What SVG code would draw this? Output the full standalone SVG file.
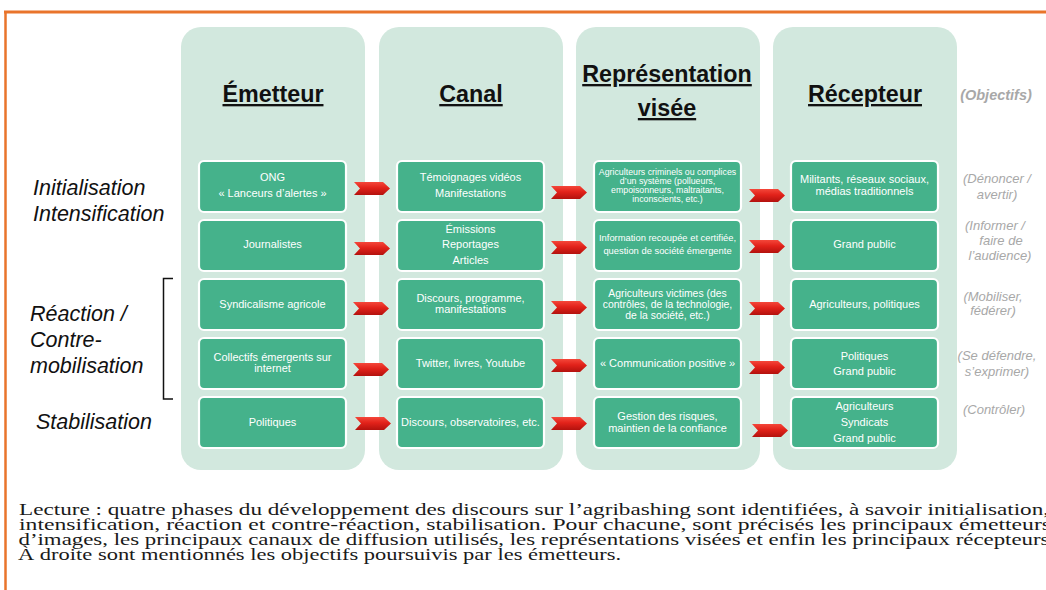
<svg xmlns="http://www.w3.org/2000/svg" width="1046" height="590" viewBox="0 0 1046 590">
  <defs>
    <linearGradient id="redGrad" x1="0" y1="0" x2="0" y2="1">
      <stop offset="0" stop-color="#F4473A"/>
      <stop offset="0.45" stop-color="#E2221A"/>
      <stop offset="1" stop-color="#B3120E"/>
    </linearGradient>
    <!-- chevron connector: notched tail, pointed head -->
    <path id="chev" d="M0,0 L29,0 L36,6.5 L29,13 L0,13 L6,6.5 Z"/>
  </defs>
  <style>
    .col { fill: #D2E8DE; }
    .box { fill: #45B28B; stroke: #FFFFFF; stroke-width: 2.2; }
    .bt { font-family: "Liberation Sans", Arial, sans-serif; fill: #FFFFFF; text-anchor: middle; font-size: 11px; }
    .bt.s9 { font-size: 8.8px; }
    .bt.s94 { font-size: 9.4px; }
    .bt.s10 { font-size: 10.4px; }
    .hd { font-family: "Liberation Sans", Arial, sans-serif; font-weight: bold; font-size: 23.3px; fill: #111111; text-anchor: middle; text-decoration: underline; }
    .phase { font-family: "Liberation Sans", Arial, sans-serif; font-style: italic; font-size: 21.5px; fill: #111111; }
    .obj { font-family: "Liberation Sans", Arial, sans-serif; font-style: italic; font-size: 13px; fill: #A8A8A8; text-anchor: middle; }
    .cap { font-family: "Liberation Serif", "Times New Roman", serif; font-size: 16px; fill: #1A1A1A; }
    .arr { fill: url(#redGrad); }
  </style>

  <rect width="1046" height="590" fill="#FFFFFF"/>

  <!-- orange frame -->
  <g id="frame">
    <line x1="4" y1="12" x2="1046" y2="12" stroke="#E9742B" stroke-width="3"/>
    <line x1="5.5" y1="11" x2="5.5" y2="590" stroke="#E9742B" stroke-width="2.5"/>
  </g>

  <!-- column backgrounds -->
  <g id="columns">
    <rect class="col" x="181" y="27" width="184" height="443" rx="20"/>
    <rect class="col" x="379" y="27" width="184" height="443" rx="20"/>
    <rect class="col" x="576" y="27" width="184" height="443" rx="20"/>
    <rect class="col" x="773" y="27" width="184" height="443" rx="20"/>
  </g>

  <!-- column headers -->
  <g id="headers">
    <text class="hd" x="273" y="102">Émetteur</text>
    <text class="hd" x="471" y="102">Canal</text>
    <text class="hd" x="667" y="82">Représentation</text>
    <text class="hd" x="667" y="116">visée</text>
    <text class="hd" x="865" y="102">Récepteur</text>
    <text x="996" y="100" font-family="Liberation Sans, Arial, sans-serif" font-style="italic" font-weight="bold" font-size="14.5" fill="#A8A8A8" text-anchor="middle">(Objectifs)</text>
  </g>

  <!-- phase labels -->
  <g id="phases">
    <text class="phase" x="33" y="195">Initialisation</text>
    <text class="phase" x="33" y="221">Intensification</text>
    <text class="phase" x="30" y="321">Réaction /</text>
    <text class="phase" x="30" y="347">Contre-</text>
    <text class="phase" x="30" y="373">mobilisation</text>
    <text class="phase" x="36" y="429">Stabilisation</text>
    <path d="M173,278.5 H163.5 V399 H173" fill="none" stroke="#111111" stroke-width="1.5"/>
  </g>

  <!-- row 1 -->
  <g id="n-ong">
    <rect class="box" x="199" y="161" width="147" height="51" rx="5"/>
    <text class="bt" x="272.5" y="181">ONG</text>
    <text class="bt" x="272.5" y="197">« Lanceurs d’alertes »</text>
  </g>
  <g id="n-temoignages">
    <rect class="box" x="397" y="161" width="147" height="51" rx="5"/>
    <text class="bt" x="470.5" y="181">Témoignages vidéos</text>
    <text class="bt" x="470.5" y="197">Manifestations</text>
  </g>
  <g id="n-criminels">
    <rect class="box" x="594" y="161" width="147" height="51" rx="5"/>
    <text class="bt s9" x="667.5" y="175">Agriculteurs criminels ou complices</text>
    <text class="bt s9" x="667.5" y="184">d’un système (pollueurs,</text>
    <text class="bt s9" x="667.5" y="193">empoisonneurs, maltraitants,</text>
    <text class="bt s9" x="667.5" y="202">inconscients, etc.)</text>
  </g>
  <g id="n-militants">
    <rect class="box" x="791" y="161" width="147" height="51" rx="5"/>
    <text class="bt" x="864.5" y="183">Militants, réseaux sociaux,</text>
    <text class="bt" x="864.5" y="195">médias traditionnels</text>
  </g>

  <!-- row 2 -->
  <g id="n-journalistes">
    <rect class="box" x="199" y="220" width="147" height="51" rx="5"/>
    <text class="bt" x="272.5" y="248">Journalistes</text>
  </g>
  <g id="n-emissions">
    <rect class="box" x="397" y="220" width="147" height="51" rx="5"/>
    <text class="bt" x="470.5" y="233">Émissions</text>
    <text class="bt" x="470.5" y="248">Reportages</text>
    <text class="bt" x="470.5" y="263.5">Articles</text>
  </g>
  <g id="n-information">
    <rect class="box" x="594" y="220" width="147" height="51" rx="5"/>
    <text class="bt s94" x="667.5" y="241">Information recoupée et certifiée,</text>
    <text class="bt s94" x="667.5" y="254">question de société émergente</text>
  </g>
  <g id="n-grandpublic">
    <rect class="box" x="791" y="220" width="147" height="51" rx="5"/>
    <text class="bt" x="864.5" y="248">Grand public</text>
  </g>

  <!-- row 3 -->
  <g id="n-syndicalisme">
    <rect class="box" x="199" y="279" width="147" height="51" rx="5"/>
    <text class="bt" x="272.5" y="308">Syndicalisme agricole</text>
  </g>
  <g id="n-discours">
    <rect class="box" x="397" y="279" width="147" height="51" rx="5"/>
    <text class="bt" x="470.5" y="302">Discours, programme,</text>
    <text class="bt" x="470.5" y="313">manifestations</text>
  </g>
  <g id="n-victimes">
    <rect class="box" x="594" y="279" width="147" height="51" rx="5"/>
    <text class="bt s10" x="667.5" y="296.5">Agriculteurs victimes (des</text>
    <text class="bt s10" x="667.5" y="307.5">contrôles, de la technologie,</text>
    <text class="bt s10" x="667.5" y="318.5">de la société, etc.)</text>
  </g>
  <g id="n-agripol">
    <rect class="box" x="791" y="279" width="147" height="51" rx="5"/>
    <text class="bt" x="864.5" y="308">Agriculteurs, politiques</text>
  </g>

  <!-- row 4 -->
  <g id="n-collectifs">
    <rect class="box" x="199" y="338" width="147" height="51" rx="5"/>
    <text class="bt" x="272.5" y="361">Collectifs émergents sur</text>
    <text class="bt" x="272.5" y="372">internet</text>
  </g>
  <g id="n-twitter">
    <rect class="box" x="397" y="338" width="147" height="51" rx="5"/>
    <text class="bt" x="470.5" y="367">Twitter, livres, Youtube</text>
  </g>
  <g id="n-compositive">
    <rect class="box" x="594" y="338" width="147" height="51" rx="5"/>
    <text class="bt" x="667.5" y="367">« Communication positive »</text>
  </g>
  <g id="n-polgp">
    <rect class="box" x="791" y="338" width="147" height="51" rx="5"/>
    <text class="bt" x="864.5" y="359.5">Politiques</text>
    <text class="bt" x="864.5" y="375">Grand public</text>
  </g>

  <!-- row 5 -->
  <g id="n-politiques">
    <rect class="box" x="199" y="397" width="147" height="51" rx="5"/>
    <text class="bt" x="272.5" y="426">Politiques</text>
  </g>
  <g id="n-observatoires">
    <rect class="box" x="397" y="397" width="147" height="51" rx="5"/>
    <text class="bt" x="470.5" y="426">Discours, observatoires, etc.</text>
  </g>
  <g id="n-gestion">
    <rect class="box" x="594" y="397" width="147" height="51" rx="5"/>
    <text class="bt" x="667.5" y="420">Gestion des risques,</text>
    <text class="bt" x="667.5" y="432">maintien de la confiance</text>
  </g>
  <g id="n-agrisyndgp">
    <rect class="box" x="791" y="397" width="147" height="51" rx="5"/>
    <text class="bt" x="864.5" y="410">Agriculteurs</text>
    <text class="bt" x="864.5" y="426">Syndicats</text>
    <text class="bt" x="864.5" y="441.5">Grand public</text>
  </g>

  <!-- connectors -->
  <g id="connectors" class="arr">
    <use href="#chev" x="354" y="182"/>
    <use href="#chev" x="551" y="186"/>
    <use href="#chev" x="749" y="189"/>

    <use href="#chev" x="354" y="242"/>
    <use href="#chev" x="551" y="241"/>
    <use href="#chev" x="749" y="240"/>

    <use href="#chev" x="353" y="302"/>
    <use href="#chev" x="551" y="301"/>
    <use href="#chev" x="749" y="302"/>

    <use href="#chev" x="353" y="363"/>
    <use href="#chev" x="551" y="359"/>
    <use href="#chev" x="749" y="361"/>

    <use href="#chev" x="355" y="417"/>
    <use href="#chev" x="551" y="417"/>
    <use href="#chev" x="752" y="424"/>
  </g>

  <!-- objectives -->
  <g id="objectives">
    <text class="obj" x="997" y="183">(Dénoncer /</text>
    <text class="obj" x="997" y="199">avertir)</text>
    <text class="obj" x="995" y="230">(Informer /</text>
    <text class="obj" x="1001" y="245">faire de</text>
    <text class="obj" x="1000" y="260">l’audience)</text>
    <text class="obj" x="993" y="301">(Mobiliser,</text>
    <text class="obj" x="993" y="315">fédérer)</text>
    <text class="obj" x="997" y="360">(Se défendre,</text>
    <text class="obj" x="997" y="376">s’exprimer)</text>
    <text class="obj" x="994" y="414">(Contrôler)</text>
  </g>

  <!-- reading note -->
  <g id="caption">
    <text class="cap" x="19" y="515" textLength="1030" lengthAdjust="spacingAndGlyphs">Lecture : quatre phases du développement des discours sur l’agribashing sont identifiées, à savoir initialisation,</text>
    <text class="cap" x="19" y="530" textLength="1032" lengthAdjust="spacingAndGlyphs">intensification, réaction et contre-réaction, stabilisation. Pour chacune, sont précisés les principaux émetteurs</text>
    <text class="cap" x="18.5" y="545" textLength="1031" lengthAdjust="spacingAndGlyphs">d’images, les principaux canaux de diffusion utilisés, les représentations visées et enfin les principaux récepteurs</text>
    <text class="cap" x="18" y="560" textLength="603" lengthAdjust="spacingAndGlyphs">À droite sont mentionnés les objectifs poursuivis par les émetteurs.</text>
  </g>
</svg>
